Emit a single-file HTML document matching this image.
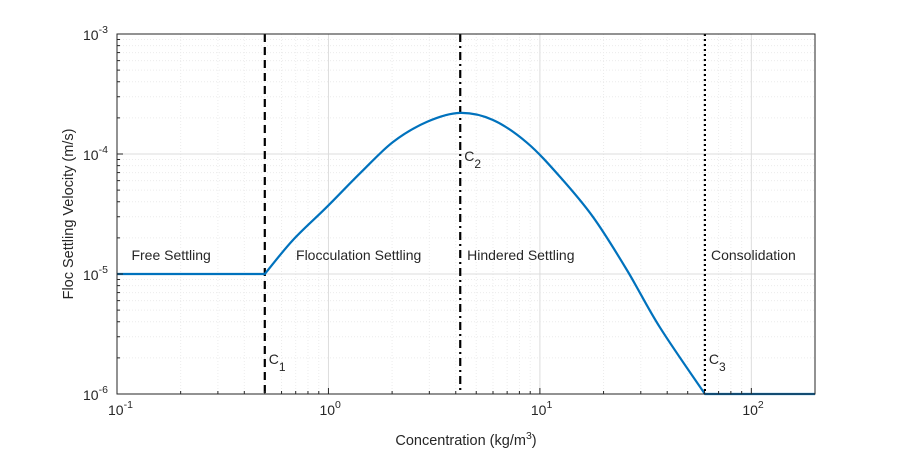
<!DOCTYPE html>
<html><head><meta charset="utf-8"><style>
body{margin:0;background:#fff;}
svg text{font-family:"Liberation Sans",Arial,sans-serif;fill:#262626;}
</style></head><body>
<svg width="900" height="452" viewBox="0 0 900 452" id="chart">
<rect width="900" height="452" fill="#fff"/>
<g id="grid"></g>
<g id="marks"></g>
<g id="axes"></g>
</svg>
<script>
const concentration=[0.1,0.5,0.68,0.98,1.41,2.02,2.92,4.19,6.0,8.7,12.4,17.8,25.8,36.9,60.3,200];
const velocity=[1e-5,1e-5,1.92e-5,3.6e-5,6.9e-5,1.26e-4,1.85e-4,2.2e-4,1.92e-4,1.24e-4,6.5e-5,3.0e-5,1.08e-5,3.6e-6,1e-6,1e-6];
const xTickExp=[-1,0,1,2];
const yTickExp=[-6,-5,-4,-3];
const criticalC=[0.5,4.2,60.3];
const criticalNames=["1","2","3"];
const regionLabels=["Free Settling","Flocculation Settling","Hindered Settling","Consolidation"];
const regionStart=[0.105,0.63,4.06,57.8];

const L=117,R=815,T=34,B=394,xmin=-1,xmax=Math.log10(200),ymin=-6,ymax=-3;
const ns="http://www.w3.org/2000/svg";
function X(v){return L+(Math.log10(v)-xmin)/(xmax-xmin)*(R-L);}
function Y(v){return B-(Math.log10(v)-ymin)/(ymax-ymin)*(B-T);}
function mk(tag,attrs,parent){const e=document.createElementNS(ns,tag);for(const k in attrs)e.setAttribute(k,attrs[k]);parent.appendChild(e);return e;}
const grid=document.getElementById('grid'),marks=document.getElementById('marks'),axes=document.getElementById('axes');
for(let e=-1;e<=2;e++)for(let m=1;m<10;m++){const v=m*Math.pow(10,e);if(v>200)break;const x=X(v);
 const g=mk('line',{x1:x,x2:x,y1:T,y2:B,stroke:m==1?'#dcdcdc':'#ececec','stroke-width':1,'stroke-dasharray':m==1?'':'1,2'},grid);
 
 const t=mk('line',{x1:x,x2:x,y1:B,y2:B-(m==1?6:3),stroke:'#262626'},axes);
 }
for(let e=-6;e<=-3;e++)for(let m=1;m<10;m++){const v=m*Math.pow(10,e);if(e==-3&&m>1)break;const y=Y(v);
 const g=mk('line',{x1:L,x2:R,y1:y,y2:y,stroke:m==1?'#dcdcdc':'#ececec','stroke-width':1,'stroke-dasharray':m==1?'':'1,2'},grid);
 
 const t=mk('line',{x1:L,x2:L+(m==1?6:3),y1:y,y2:y,stroke:'#262626'},axes);
 }
const dashes=['8,5','8,4,2,4','2,3'];
criticalC.forEach((c,i)=>{const x=X(c);
 const l=mk('line',{x1:x,x2:x,y1:T,y2:B,stroke:'#000','stroke-width':2.2,'stroke-dasharray':dashes[i]},marks);
 
 const ty=i==1?161:364;
 const t=mk('text',{x:x+4,y:ty,'font-size':14},marks);t.textContent='C';
 const s=mk('tspan',{dy:7,'font-size':12},t);s.textContent=criticalNames[i];
 });
// curve: straight flats, smooth middle (Catmull-Rom)
const P=concentration.map((c,i)=>[X(c),Y(velocity[i])]);
const n=P.length;
let d='M'+P[0][0].toFixed(1)+','+P[0][1].toFixed(1)+' L'+P[1][0].toFixed(1)+','+P[1][1].toFixed(1);
for(let i=1;i<n-2;i++){
 const p0=P[Math.max(1,i-1)],p1=P[i],p2=P[i+1],p3=P[Math.min(n-2,i+2)];
 const c1=[p1[0]+(p2[0]-p0[0])/6,p1[1]+(p2[1]-p0[1])/6];
 const c2=[p2[0]-(p3[0]-p1[0])/6,p2[1]-(p3[1]-p1[1])/6];
 d+=' C'+c1[0].toFixed(1)+','+c1[1].toFixed(1)+' '+c2[0].toFixed(1)+','+c2[1].toFixed(1)+' '+p2[0].toFixed(1)+','+p2[1].toFixed(1);}
d+=' L'+P[n-1][0].toFixed(1)+','+P[n-1][1].toFixed(1);
const pl=mk('path',{d:d,fill:'none',stroke:'#0072bd','stroke-width':2.2,'stroke-linejoin':'round'},marks);

regionLabels.forEach((s,i)=>{const t=mk('text',{x:X(regionStart[i])+10,y:260,'font-size':14,fill:'#000'},marks);t.textContent=s;
 });
const bx=mk('rect',{x:L,y:T,width:R-L,height:B-T,fill:'none',stroke:'#262626','stroke-width':1},axes);

xTickExp.forEach(e=>{const t=mk('text',{x:X(Math.pow(10,e))-9,y:415,'font-size':14},axes);t.textContent='10';
 const s=mk('tspan',{dy:-7,'font-size':10.5},t);s.textContent=e;
 });
yTickExp.forEach(e=>{const t=mk('text',{x:83,y:Y(Math.pow(10,e))+6,'font-size':14},axes);t.textContent='10';
 const s=mk('tspan',{dy:-7,'font-size':10.5},t);s.textContent=e;
 });
const xt=mk('text',{x:(L+R)/2,y:445,'font-size':14.5,'text-anchor':'middle'},axes);xt.textContent='Concentration (kg/m';
const xs=mk('tspan',{dy:-6,'font-size':10.5},xt);xs.textContent='3';const xs2=mk('tspan',{dy:6},xt);xs2.textContent=')';

const yt=mk('text',{x:0,y:0,'font-size':14.5,'text-anchor':'middle',transform:'translate(73,'+((T+B)/2)+') rotate(-90)'},axes);yt.textContent='Floc Settling Velocity (m/s)';

</script>
</body></html>
